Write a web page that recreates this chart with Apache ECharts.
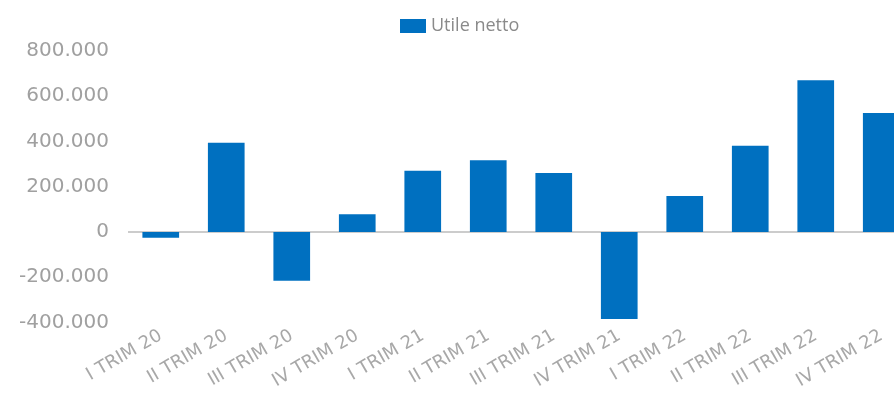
<!DOCTYPE html>
<html>
<head>
<meta charset="utf-8">
<script src="https://cdn.jsdelivr.net/npm/echarts@6/dist/echarts.min.js"></script>
<style>
html,body{margin:0;padding:0;background:#fff;}
#chart{width:894px;height:403px;}
</style>
</head>
<body>
<div id="chart"></div>
<script>
const categories = ['I TRIM 20','II TRIM 20','III TRIM 20','IV TRIM 20','I TRIM 21','II TRIM 21','III TRIM 21','IV TRIM 21','I TRIM 22','II TRIM 22','III TRIM 22','IV TRIM 22'];
const utileNetto = [-25000, 395000, -215000, 78000, 271000, 317000, 261000, -385000, 159000, 381000, 671000, 526000];
const seriesName = 'Utile netto';
const yMin = -400000, yMax = 800000, yStep = 200000;

function fmt(v){
  const s = Math.abs(v).toString().replace(/\B(?=(\d{3})+(?!\d))/g, '.');
  return (v < 0 ? '-' : '') + s;
}

const chart = echarts.init(document.getElementById('chart'), null, {renderer:'canvas'});
chart.setOption({
  animation:false,
  backgroundColor:'#ffffff',
  legend:{
    data:[seriesName],
    left:395, top:12,
    itemWidth:26, itemHeight:14, itemGap:9,
    icon:'rect',
    textStyle:{color:'#8a8a8a', fontSize:18, fontFamily:'Open Sans'}
  },
  grid:{left:128, top:51, width:786, height:271.5, containLabel:false, outerBoundsMode:'none'},
  xAxis:{
    type:'category',
    data:categories,
    axisLine:{show:false},
    axisTick:{show:false},
    axisLabel:{rotate:30, margin:12, color:'#a8a8a8', fontSize:18, fontFamily:'DejaVu Sans', interval:0}
  },
  yAxis:{
    type:'value',
    min:yMin, max:yMax, interval:yStep,
    axisLine:{show:false},
    axisTick:{show:false},
    axisLabel:{formatter:fmt, margin:19, color:'#a0a0a0', fontSize:20, fontFamily:'DejaVu Sans'},
    splitLine:{show:true, lineStyle:{width:2, color:['rgba(0,0,0,0)','rgba(0,0,0,0)','#cccccc','rgba(0,0,0,0)','rgba(0,0,0,0)','rgba(0,0,0,0)','rgba(0,0,0,0)']}}
  },
  series:[{
    name:seriesName,
    type:'bar',
    data:utileNetto,
    barWidth:'56%',
    itemStyle:{color:'#0070C0'}
  }]
});
</script>
</body>
</html>
